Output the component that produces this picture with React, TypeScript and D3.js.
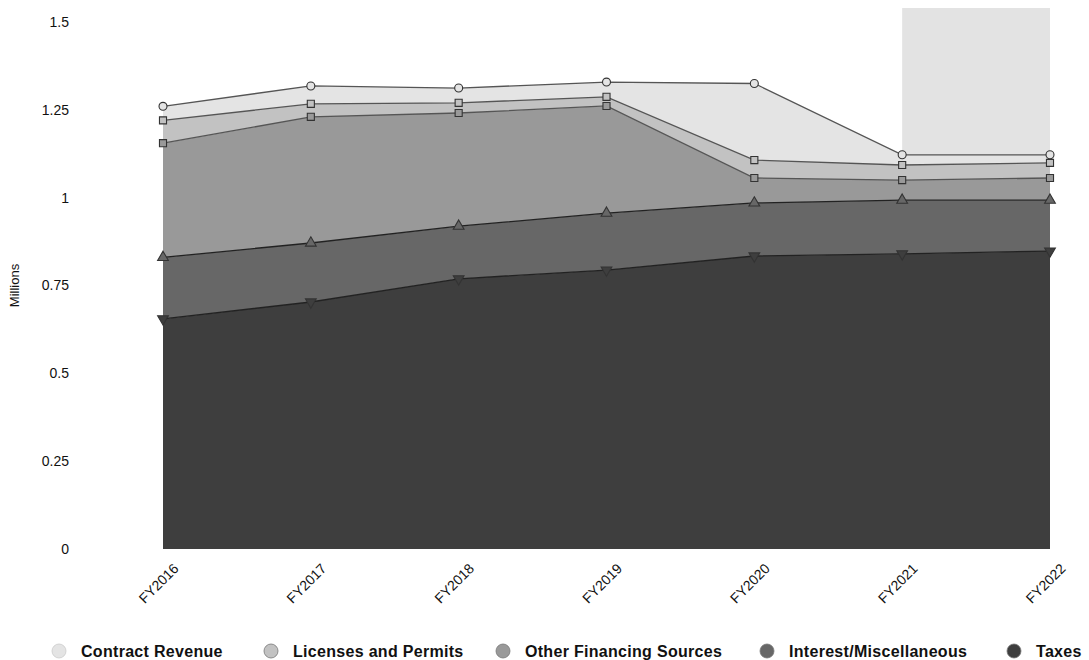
import React from 'react';
import * as d3 from 'd3';

const years = ['FY2016', 'FY2017', 'FY2018', 'FY2019', 'FY2020', 'FY2021', 'FY2022'];
const taxes = [0.655, 0.703, 0.769, 0.794, 0.834, 0.84, 0.848];
const interestMisc = [0.175, 0.168, 0.15, 0.162, 0.151, 0.153, 0.145];
const otherFinancing = [0.325, 0.359, 0.322, 0.305, 0.071, 0.057, 0.063];
const licensesPermits = [0.065, 0.037, 0.029, 0.026, 0.051, 0.043, 0.043];
const contractRevenue = [0.04, 0.051, 0.042, 0.042, 0.218, 0.029, 0.023];
const yTicks = [0, 0.25, 0.5, 0.75, 1, 1.25, 1.5];
const yTickLabels = ['0', '0.25', '0.5', '0.75', '1', '1.25', '1.5'];

const seriesNames = ['Taxes', 'Interest/Miscellaneous', 'Other Financing Sources', 'Licenses and Permits', 'Contract Revenue'];
const seriesValues = [taxes, interestMisc, otherFinancing, licensesPermits, contractRevenue];
const seriesColors = ['#3e3e3e', '#676767', '#999999', '#c2c2c2', '#e4e4e4'];
const markerShapes = [d3.symbolTriangle, d3.symbolTriangle, d3.symbolSquare, d3.symbolSquare, d3.symbolCircle];
const legendOrder = ['Contract Revenue', 'Licenses and Permits', 'Other Financing Sources', 'Interest/Miscellaneous', 'Taxes'];
const legendX = [59, 271, 503, 767, 1014];

export default function App() {
  const W = 1089, H = 660;
  const x = d3.scalePoint<string>().domain(years).range([163, 1050]);
  const y = d3.scaleLinear().domain([0, 1.5]).range([549, 22]);

  const rows = years.map((yr, i) => {
    const r: any = { year: yr };
    seriesNames.forEach((n, k) => (r[n] = seriesValues[k][i]));
    return r;
  });
  const stacked = d3.stack<any>().keys(seriesNames)(rows);

  const area = d3.area<any>()
    .x((d) => x(d.data.year) as number)
    .y0((d) => y(d[0]))
    .y1((d) => y(d[1]));
  const line = d3.line<any>()
    .x((d) => x(d.data.year) as number)
    .y((d) => y(d[1]));

  const fy21 = x('FY2021') as number;
  const fy22 = x('FY2022') as number;

  return (
    <svg width={W} height={H} style={{ position: 'absolute', left: 0, top: 0, fontFamily: 'Liberation Sans, Arial, sans-serif' }}>
      <rect width={W} height={H} fill="#fff" />
      {/* highlighted band */}
      <rect x={fy21} y={8} width={fy22 - fy21} height={y(0) - 8} fill="#e3e3e3" />
      {stacked.map((s, k) => (
        <path key={'a' + k} d={area(s) as string} fill={seriesColors[k]} />
      ))}
      {stacked.map((s, k) => (
        <path key={'l' + k} d={line(s) as string} fill="none" stroke={k < 2 ? '#222' : '#555'} strokeWidth={1.3} />
      ))}
      {stacked.map((s, k) =>
        s.map((d, i) => (
          <path
            key={'m' + k + '-' + i}
            d={d3.symbol().type(markerShapes[k]).size(50)() as string}
            transform={`translate(${x(d.data.year)},${y(d[1])})${k === 0 ? ' rotate(180)' : ''}`}
            fill={seriesColors[k]}
            stroke="#333"
            strokeWidth={1.1}
          />
        ))
      )}
      {/* y axis labels */}
      {yTicks.map((t, i) => (
        <text key={'yt' + i} x={69} y={y(t)} dy="0.35em" textAnchor="end" fontSize={14} fill="#111">
          {yTickLabels[i]}
        </text>
      ))}
      <text transform={`translate(19,${y(0.75)}) rotate(-90)`} textAnchor="middle" fontSize={13} fill="#111">
        Millions
      </text>
      {/* x axis labels */}
      {years.map((yr) => (
        <text
          key={yr}
          transform={`translate(${(x(yr) as number) + 13},${566}) rotate(-45)`}
          textAnchor="end"
          dy="0.35em"
          fontSize={14}
          fill="#111"
        >
          {yr}
        </text>
      ))}
      {/* legend */}
      {legendOrder.map((n, i) => {
        const k = seriesNames.indexOf(n);
        return (
          <g key={n} transform={`translate(${legendX[i]},651)`}>
            <circle r={7} fill={seriesColors[k]} stroke={k === 4 ? '#ccc' : '#777'} strokeWidth={0.8} />
            <text x={22} dy="0.35em" fontSize={16} letterSpacing={0.3} fontWeight="bold" fill="#111">
              {n}
            </text>
          </g>
        );
      })}
    </svg>
  );
}
